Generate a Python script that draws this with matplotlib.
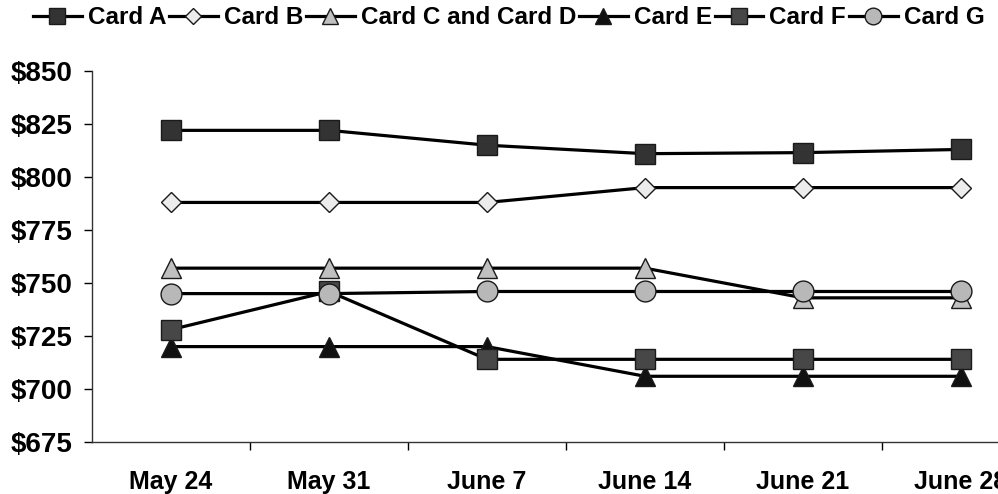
import matplotlib
matplotlib.use('Agg')
import matplotlib.pyplot as plt
from matplotlib.ticker import FuncFormatter

plt.rcParams['font.family'] = ['Liberation Sans', 'DejaVu Sans']
plt.rcParams['font.weight'] = 'bold'

# Datos
weeks = ['May 24', 'May 31', 'June 7', 'June 14', 'June 21', 'June 28']
card_a = [822, 822, 815, 811, 811.5, 813]
card_b = [788, 788, 788, 795, 795, 795]
card_cd = [757, 757, 757, 757, 743, 743]
card_e = [720, 720, 720, 706, 706, 706]
card_f = [728, 746, 714, 714, 714, 714]
card_g = [745, 745, 746, 746, 746, 746]
y_ticks = [675, 700, 725, 750, 775, 800, 825, 850]

series = [
    ('Card A', card_a, 's', '#333333', 14.5),
    ('Card B', card_b, 'D', '#ececec', 10.5),
    ('Card C and Card D', card_cd, '^', '#c0c0c0', 15),
    ('Card E', card_e, '^', '#111111', 15),
    ('Card F', card_f, 's', '#474747', 14.5),
    ('Card G', card_g, 'o', '#b8b8b8', 15),
]

fig = plt.figure(figsize=(9.98, 4.94), dpi=100)
ax = fig.add_axes([92 / 998, 1 - 442 / 494, 948 / 998, 371 / 494])

x = list(range(len(weeks)))
for name, vals, mk, fc, ms in series:
    ax.plot(x, vals, color='black', linewidth=2.3, marker=mk, markersize=ms,
            markerfacecolor=fc, markeredgecolor='#1a1a1a', markeredgewidth=1.0,
            label=name)

ax.set_xlim(-0.5, 5.5)
ax.set_ylim(675, 850)
ax.set_yticks(y_ticks)
ax.yaxis.set_major_formatter(FuncFormatter(lambda v, p: f'${v:.0f}'))
ax.set_xticks(x)
ax.set_xticklabels(weeks)
ax.set_xticks([i + 0.5 for i in range(5)], minor=True)

ax.tick_params(axis='x', which='major', length=0, pad=20, labelsize=18)
ax.tick_params(axis='x', which='minor', length=6, width=1, direction='out')
ax.tick_params(axis='y', length=6, width=1, direction='out', pad=8, labelsize=20)

for s in ['top', 'right']:
    ax.spines[s].set_visible(False)
for s in ['left', 'bottom']:
    ax.spines[s].set_linewidth(1)
    ax.spines[s].set_color('#333333')

fig.legend(loc='center left', bbox_to_anchor=(0.033, 1 - 18 / 494), ncol=6,
           frameon=False, fontsize=17.5, handlelength=2.0, handletextpad=0.25,
           columnspacing=0.12, borderpad=0, borderaxespad=0, markerscale=0.8)

fig.savefig('out.png', dpi=100)
